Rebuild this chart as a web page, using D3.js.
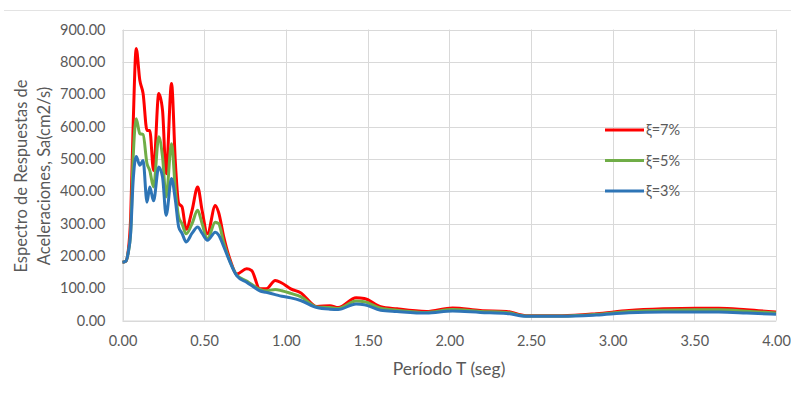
<!DOCTYPE html>
<html>
<head>
<meta charset="utf-8">
<script src="https://cdn.jsdelivr.net/npm/d3@7"></script>
<style>
  html, body { margin: 0; padding: 0; background: #fff; }
  svg { display: block; font-family: Lato, "Open Sans", "Liberation Sans", sans-serif; }
</style>
</head>
<body>
<svg id="chart" width="791" height="399"></svg>
<script>
// Período T (seg)
const periods = [0, 0.02, 0.035, 0.05, 0.065, 0.084, 0.106, 0.126, 0.15, 0.167, 0.19, 0.222, 0.245, 0.267, 0.3, 0.324, 0.344, 0.364, 0.39, 0.426, 0.46, 0.487, 0.52, 0.568, 0.588, 0.62, 0.66, 0.7, 0.76, 0.79, 0.84, 0.88, 0.935, 0.975, 1.03, 1.09, 1.19, 1.27, 1.32, 1.43, 1.48, 1.58, 1.68, 1.86, 2.02, 2.19, 2.35, 2.47, 2.69, 2.9, 3.1, 3.31, 3.51, 3.65, 3.82, 4.0];

// Sa (cm2/s) for each damping ratio
const sa7 = [180, 183, 215, 320, 600, 841, 743, 702, 588, 588, 464, 702, 650, 454, 733, 485, 362, 352, 282, 341, 413, 341, 268, 356, 335, 258, 186, 144, 160, 155, 98, 98, 124, 116, 98, 86, 43, 46, 40, 70, 68, 43, 36, 28, 39, 31, 28, 15, 15, 21, 31, 36, 38, 38, 33, 26];
const sa5 = [180, 183, 210, 275, 500, 624, 578, 575, 485, 464, 413, 568, 506, 382, 547, 403, 320, 300, 268, 300, 341, 300, 253, 304, 300, 240, 180, 140, 122, 112, 96, 92, 96, 92, 84, 74, 42, 40, 37, 60, 58, 38, 32, 25, 34, 28, 25, 14, 14, 19, 28, 32, 33, 33, 29, 23];
const sa3 = [180, 183, 210, 270, 430, 507, 480, 495, 366, 413, 370, 475, 444, 325, 439, 370, 289, 270, 243, 270, 289, 270, 248, 273, 265, 228, 178, 138, 118, 108, 92, 87, 80, 75, 70, 62, 40, 35, 34, 51, 49, 32, 28, 23, 29, 25, 22, 13, 13, 17, 24, 26, 26, 26, 23, 19];

const seriesNames = ["ξ=7%", "ξ=5%", "ξ=3%"];
const seriesColors = ["#ff0000", "#70ad47", "#2e75b6"];
const xTicks = [0, 0.5, 1, 1.5, 2, 2.5, 3, 3.5, 4];
const yTicks = [0, 100, 200, 300, 400, 500, 600, 700, 800, 900];

const svg = d3.select("#chart");
const plot = { left: 122.5, right: 776, top: 29.5, bottom: 320.5 };

const x = d3.scaleLinear().domain([0, 4]).range([plot.left, plot.right]);
const y = d3.scaleLinear().domain([0, 900]).range([plot.bottom, plot.top]);

// outer chart frame (top edge)
svg.append("line")
  .attr("x1", 4).attr("x2", 791).attr("y1", 10.5).attr("y2", 10.5)
  .attr("stroke", "#e3e3e3").attr("stroke-width", 1);

// gridlines
const grid = svg.append("g").attr("stroke", "#d9d9d9").attr("stroke-width", 1);
grid.selectAll(".gy").data(yTicks).join("line")
  .attr("x1", plot.left).attr("x2", plot.right)
  .attr("y1", d => Math.round(y(d)) + 0.5).attr("y2", d => Math.round(y(d)) + 0.5);
grid.selectAll(".gx").data(xTicks).join("line")
  .attr("y1", plot.top).attr("y2", plot.bottom)
  .attr("x1", d => Math.round(x(d)) + 0.5).attr("x2", d => Math.round(x(d)) + 0.5);

// axes
const fmt = d3.format(".2f");
const yAxis = svg.append("g")
  .attr("transform", `translate(${plot.left},0)`)
  .call(d3.axisLeft(y).tickValues(yTicks).tickFormat(fmt).tickSize(0).tickPadding(17));
const xAxis = svg.append("g")
  .attr("transform", `translate(0,${plot.bottom})`)
  .call(d3.axisBottom(x).tickValues(xTicks).tickFormat(fmt).tickSize(0).tickPadding(15));
[yAxis, xAxis].forEach(a => {
  a.select(".domain").attr("stroke", "#d9d9d9");
  a.selectAll("text").attr("fill", "#595959").style("font-size", "14.5px")
    .style("font-family", "Lato, 'Open Sans', sans-serif");
});

// series lines
const line = d3.line()
  .x((d, i) => x(periods[i]))
  .y(d => y(d))
  .curve(d3.curveMonotoneX);

const series = [sa7, sa5, sa3];
svg.append("g").selectAll("path").data(series).join("path")
  .attr("d", d => line(d))
  .attr("fill", "none")
  .attr("stroke", (d, i) => seriesColors[i])
  .attr("stroke-width", 3)
  .attr("stroke-linejoin", "round");

// legend
const legend = svg.append("g").attr("transform", "translate(605,130)");
seriesNames.forEach((name, i) => {
  const g = legend.append("g").attr("transform", `translate(0,${i * 30.5})`);
  g.append("line").attr("x1", 0).attr("x2", 39).attr("y1", 0).attr("y2", 0)
    .attr("stroke", seriesColors[i]).attr("stroke-width", 3);
  g.append("text").attr("x", 41).attr("y", 0).attr("dy", "0.35em")
    .attr("fill", "#595959").style("font-size", "14.5px").text(name);
});

// axis titles
svg.append("text")
  .attr("x", 449).attr("y", 375)
  .attr("text-anchor", "middle").attr("fill", "#595959")
  .style("font-size", "17.5px").text("Período T (seg)");

const yTitle = svg.append("text")
  .attr("transform", "translate(27,176) rotate(-90)")
  .attr("text-anchor", "middle").attr("fill", "#595959")
  .style("font-size", "16.5px");
yTitle.append("tspan").attr("x", 0).attr("y", 0).text("Espectro de Respuestas de");
yTitle.append("tspan").attr("x", 0).attr("y", 23).text("Aceleraciones, Sa(cm2/s)");
</script>
</body>
</html>
